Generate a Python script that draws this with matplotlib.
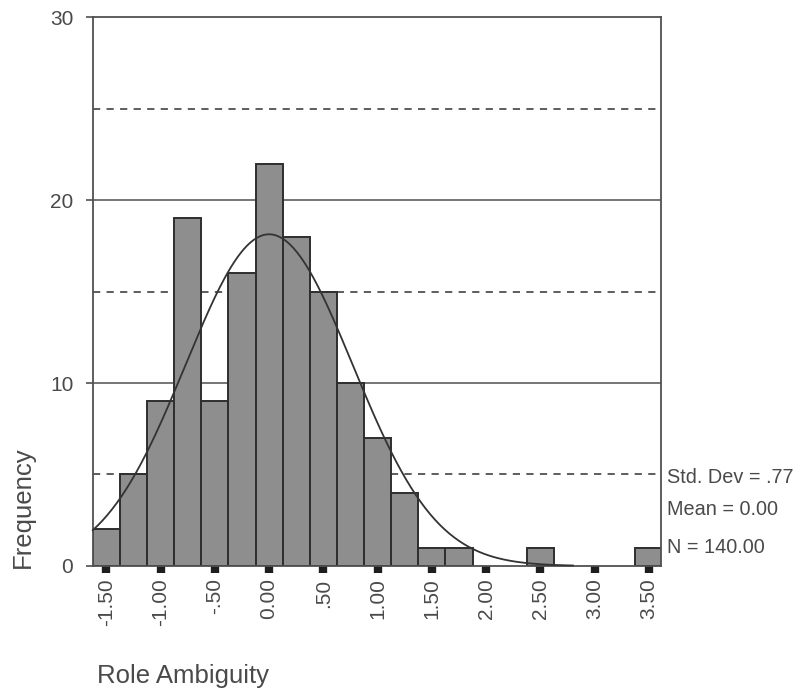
import numpy as np
import matplotlib
matplotlib.use("Agg")
import matplotlib.pyplot as plt

# bin centres (width .25) and frequencies
bin_centres = [-1.50, -1.25, -1.00, -0.75, -0.50, -0.25, 0.00, 0.25, 0.50, 0.75,
               1.00, 1.25, 1.50, 1.75, 2.00, 2.25, 2.50, 2.75, 3.00, 3.25, 3.50]
counts = [2, 5, 9, 19, 9, 16, 22, 18, 15, 10, 7, 4, 1, 1, 0, 0, 1, 0, 0, 0, 1]
bin_width = 0.25

tick_pos = [-1.5, -1.0, -0.5, 0.0, 0.5, 1.0, 1.5, 2.0, 2.5, 3.0, 3.5]
tick_labels = ["-1.50", "-1.00", "-.50", "0.00", ".50", "1.00", "1.50",
               "2.00", "2.50", "3.00", "3.50"]

std_dev = 0.77
mean = 0.00
n_cases = 140

plt.rcParams["font.family"] = ["Liberation Sans", "DejaVu Sans"]
txt = "#4a4a4a"
line = "#505050"

fig = plt.figure(figsize=(8, 6.91), dpi=100)
ax = fig.add_axes([0.116, 0.181, 0.71, 0.794])

# reference lines behind the bars
for y in [10, 20]:
    ax.axhline(y, color=line, lw=1.1, zorder=1)
for y in [5, 15, 25]:
    ax.axhline(y, color=line, lw=1.3, ls=(0, (4, 3.5)), zorder=1)

nz = [(c, v) for c, v in zip(bin_centres, counts) if v > 0]
ax.bar([c for c, _ in nz], [v for _, v in nz], width=bin_width,
       color="#8e8e8e", edgecolor="#2e2e2e", linewidth=1.4, zorder=2)

# fitted normal curve
xs = np.linspace(-1.625, 2.8, 300)
ys = n_cases * bin_width / (std_dev * np.sqrt(2 * np.pi)) * \
    np.exp(-0.5 * ((xs - mean) / std_dev) ** 2)
ax.plot(xs, ys, color="#333333", lw=1.3, zorder=3, clip_on=False)

ax.set_xlim(-1.625, 3.61)
ax.set_ylim(0, 30)
ax.set_yticks([0, 10, 20, 30])
ax.set_yticklabels(["0", "10", "20", "30"], fontsize=15, color=txt)
ax.tick_params(axis="y", length=5, width=1.2, color=line, pad=9)
ax.set_xticks(tick_pos)
ax.set_xticklabels(tick_labels, rotation=90, fontsize=15, color=txt)
ax.tick_params(axis="x", length=5, width=6, color="#1e1e1e", pad=4)

for s in ax.spines.values():
    s.set_color(line)
    s.set_linewidth(1.3)

fig.text(0.028, 0.178, "Frequency", rotation=90, fontsize=18.5, color=txt,
         ha="center", va="bottom")
fig.text(0.121, 0.005, "Role Ambiguity", fontsize=18.5, color=txt,
         ha="left", va="bottom")

stats = [("Std. Dev = .77", 0.309), ("Mean = 0.00", 0.262), ("N = 140.00", 0.208)]
for s, yf in stats:
    fig.text(0.834, yf, s, fontsize=14.3, color=txt, ha="left", va="center")

fig.savefig("out.png", dpi=100)
